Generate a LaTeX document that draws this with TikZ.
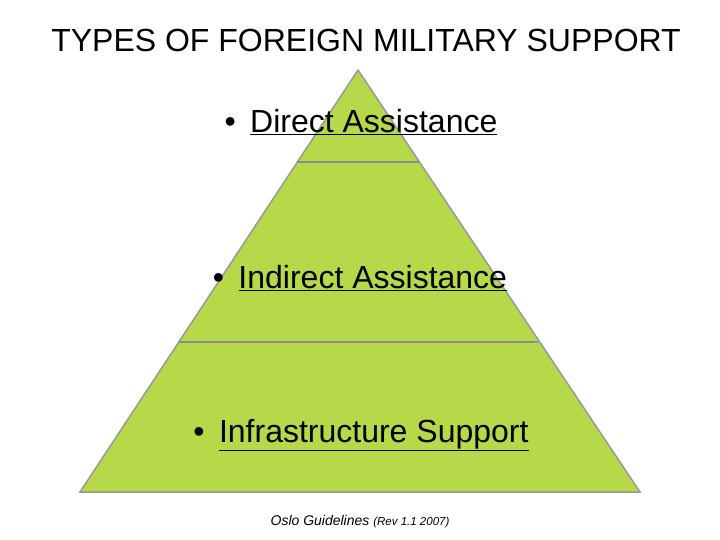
\documentclass[tikz,border=0pt]{standalone}
\usepackage{fontspec}
\setmainfont{Liberation Sans}
\begin{document}
\begin{tikzpicture}[x=1pt,y=-1pt,
  lbl/.style={font=\fontsize{32}{38}\selectfont, text=black},
  sep/.style={draw=gray!90, line width=1.5pt}]
\useasboundingbox (0,0) rectangle (720,540);
\coordinate (apex) at (358,70);
\coordinate (bl) at (80,492);
\coordinate (br) at (640,492);
\filldraw[fill={rgb,255:red,181;green,217;blue,72}, draw=gray!80, line width=1.5pt] (apex) -- (br) -- (bl) -- cycle;
\coordinate (l1a) at (297,162); \coordinate (l1b) at (419,162);
\coordinate (l2a) at (178,342); \coordinate (l2b) at (538,342);
\draw[sep] (l1a) -- (l1b);
\draw[sep] (l2a) -- (l2b);
\node[lbl] (title) at (366,40) {TYPES OF FOREIGN MILITARY SUPPORT};
\node[lbl] (d) at (361,122) {\textbullet\hspace{0.45em}\underline{Direct Assistance}};
\node[lbl] (i) at (360,278) {\textbullet\hspace{0.45em}\underline{Indirect Assistance}};
\node[lbl] (s) at (361,435) {\textbullet\hspace{0.45em}\underline{Infrastructure Support}};
\node (f) at (360,522) {\fontsize{14}{16}\selectfont\itshape Oslo Guidelines {\fontsize{11.5}{13}\selectfont(Rev 1.1 2007)}};
\end{tikzpicture}
\end{document}
